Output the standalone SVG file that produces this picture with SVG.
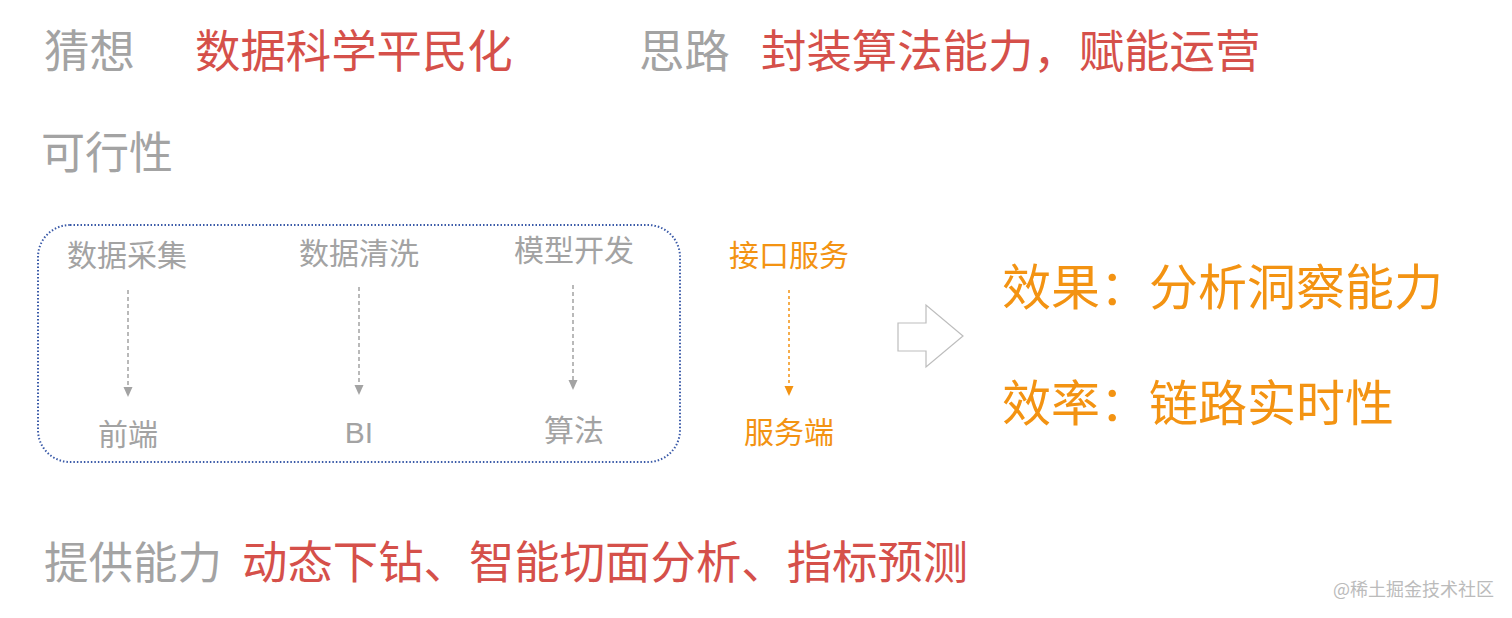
<svg xmlns="http://www.w3.org/2000/svg" width="1512" height="618" viewBox="0 0 1512 618">
<style>
text{font-family:"Noto Sans CJK SC","Noto Sans",sans-serif;}
.g{fill:#a3a3a3;}
.r{fill:#d5504a;}
.o{fill:#f39312;}
.h{font-size:45.4px;}
.m{font-size:30px;text-anchor:middle;}
.big{font-size:49px;}
.cg{stroke:#a3a3a3;stroke-width:1.5;stroke-dasharray:4 3;fill:none;}
.co{stroke:#f39312;stroke-width:1.5;stroke-dasharray:3 3;fill:none;}
</style>
<rect width="1512" height="618" fill="#ffffff"/>
<g id="title1"><text x="44" y="68" class="h g">猜想</text><text x="195" y="68" class="h r">数据科学平民化</text></g>
<g id="title2"><text x="639" y="68" class="h g">思路</text><text x="761" y="68" class="h r">封装算法能力，赋能运营</text></g>
<g id="feasible"><text x="41" y="169" class="h g" style="font-size:44px">可行性</text></g>
<g id="box"><rect x="38" y="225" width="642" height="237" rx="32" ry="32" fill="none" stroke="#3a5aa8" stroke-width="2" stroke-dasharray="1.5 2"/></g>
<g id="n1"><text x="127" y="266" class="m g">数据采集</text></g>
<g id="n2"><text x="359" y="264" class="m g">数据清洗</text></g>
<g id="n3"><text x="574" y="261" class="m g">模型开发</text></g>
<g id="n4"><text x="128" y="445" class="m g">前端</text></g>
<g id="n5"><text x="359" y="443" class="m g" style="font-family:'Liberation Sans',sans-serif">BI</text></g>
<g id="n6"><text x="574" y="441" class="m g">算法</text></g>
<g id="n7"><text x="789" y="266" class="m o">接口服务</text></g>
<g id="n8"><text x="789" y="443" class="m o">服务端</text></g>
<g id="connectors">
<line x1="128" y1="290" x2="128" y2="388" class="cg"/><path d="M123.5,387 L132.5,387 L128,397 Z" fill="#a3a3a3"/>
<line x1="359" y1="287" x2="359" y2="386" class="cg"/><path d="M354.5,385 L363.5,385 L359,395 Z" fill="#a3a3a3"/>
<line x1="573" y1="285" x2="573" y2="381" class="cg"/><path d="M568.5,380 L577.5,380 L573,390 Z" fill="#a3a3a3"/>
<line x1="789" y1="290" x2="789" y2="387" class="co"/><path d="M784.5,386 L793.5,386 L789,396 Z" fill="#f39312"/>
</g>
<g id="bigarrow"><path d="M898,323 L926,323 L926,305 L963,336 L926,367 L926,351 L898,351 Z" fill="#ffffff" stroke="#bdbdbd" stroke-width="1.2"/></g>
<g id="effect1"><text x="1002" y="305" class="big o">效果：分析洞察能力</text></g>
<g id="effect2"><text x="1002" y="421" class="big o">效率：链路实时性</text></g>
<g id="provide"><text x="44" y="579" class="h g" style="font-size:44.5px">提供能力</text><text x="242" y="579" class="h r">动态下钻、智能切面分析、指标预测</text></g>
<g id="watermark"><text x="1333" y="596" style="font-size:18px" fill="#bbbbbb">@稀土掘金技术社区</text></g>
</svg>
